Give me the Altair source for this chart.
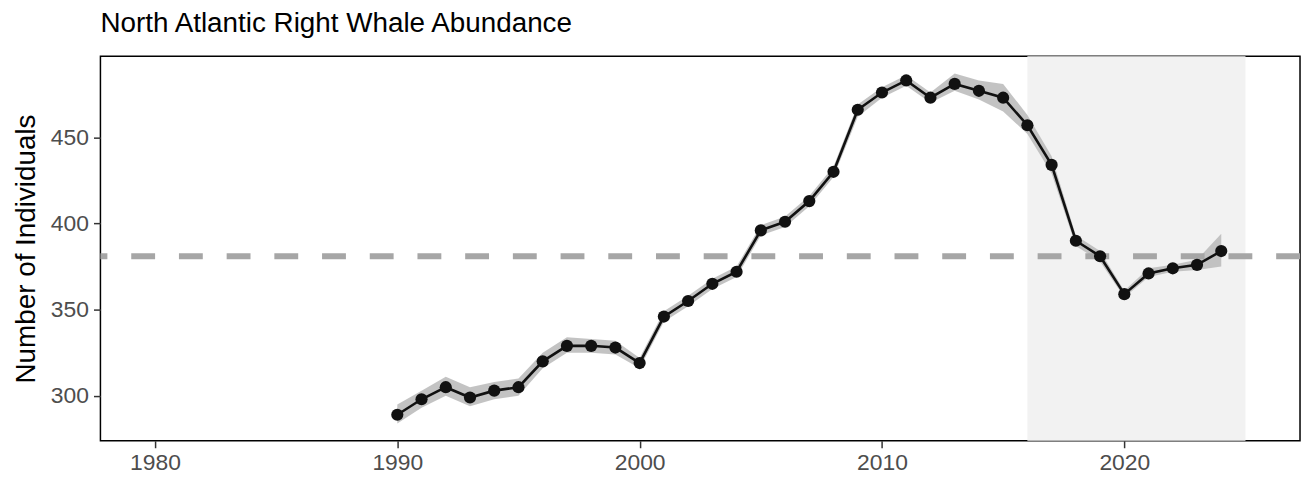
import altair as alt
import pandas as pd

years = list(range(1990, 2025))
abundance = [289, 298, 305, 299, 303, 305, 320, 329, 329, 328, 319,
             346, 355, 365, 372, 396, 401, 413, 430, 466, 476,
             483, 473, 481, 477, 473, 457, 434, 390, 381, 359,
             371, 374, 376, 384]
lower = [284, 293, 300, 294, 298, 300, 316, 325, 325, 324, 316,
         343, 352, 362, 369, 393, 398, 410, 427, 462, 473,
         480, 470, 477, 472, 465, 452, 429, 387, 378, 357,
         369, 372, 373, 375]
upper = [295, 303, 311, 305, 308, 310, 325, 334, 333, 332, 322,
         349, 358, 368, 375, 399, 404, 416, 433, 469, 479,
         486, 476, 487, 483, 481, 463, 439, 393, 384, 361,
         374, 376, 379, 394]
reference_level = [381]
shade_start = [2016]
shade_end = [2025]
x_ticks = [1980, 1990, 2000, 2010, 2020]
y_ticks = [300, 350, 400, 450]

df = pd.DataFrame({"year": years, "n": abundance, "lo": lower, "hi": upper})
ref = pd.DataFrame({"ref": reference_level})
shade = pd.DataFrame({"x1": shade_start, "x2": shade_end})

W, H = 1207, 387
xscale = alt.Scale(domain=[1977.75, 2027.25], nice=False, zero=False)
yscale = alt.Scale(domain=[273.9, 497.1], nice=False, zero=False)

xaxis = alt.Axis(values=x_ticks, format="d", title=None, grid=False,
                 labelFontSize=23, labelColor="#4D4D4D", labelPadding=4,
                 tickColor="#333333", tickSize=7, tickWidth=1.5,
                 domain=False)
yaxis = alt.Axis(values=y_ticks, format="d", title="Number of Individuals",
                 grid=False, labelFontSize=23, labelColor="#4D4D4D",
                 labelPadding=5, tickColor="#333333", tickSize=7, tickWidth=1.5,
                 titleFontSize=28, titleFontWeight="normal", titleColor="black",
                 titlePadding=10, domain=False)

band = alt.Chart(shade).mark_rect(color="#F2F2F2").encode(
    x=alt.X("x1:Q", scale=xscale, axis=xaxis),
    x2="x2:Q",
    y=alt.value(0), y2=alt.value(H),
)

ribbon = alt.Chart(df).mark_area(color="#BDBDBD", opacity=0.9).encode(
    x=alt.X("year:Q", scale=xscale),
    y=alt.Y("lo:Q", scale=yscale, axis=yaxis),
    y2="hi:Q",
)

rule = alt.Chart(ref).mark_rule(color="#A6A6A6", strokeWidth=6,
                                strokeDash=[24, 24]).encode(
    y=alt.Y("ref:Q", scale=yscale),
)

line = alt.Chart(df).mark_line(color="#111111", strokeWidth=2.6).encode(
    x=alt.X("year:Q", scale=xscale),
    y=alt.Y("n:Q", scale=yscale),
)

points = alt.Chart(df).mark_circle(color="#111111", opacity=1, size=150).encode(
    x=alt.X("year:Q", scale=xscale),
    y=alt.Y("n:Q", scale=yscale),
)

chart = alt.layer(band, ribbon, rule, line, points).properties(
    width=W, height=H,
    title=alt.TitleParams("North Atlantic Right Whale Abundance", anchor="start",
                          frame="group",
                          fontSize=28, fontWeight="normal", color="black",
                          offset=18, font="Liberation Sans"),
    autosize=alt.AutoSizeParams(type="none"),
    padding={"left": 93, "top": 47, "right": 3, "bottom": 38},
).configure(font="Liberation Sans").configure_view(
    stroke="black", strokeWidth=1.5
)

chart.save("out.html", embed_options={"renderer": "svg", "actions": False})
